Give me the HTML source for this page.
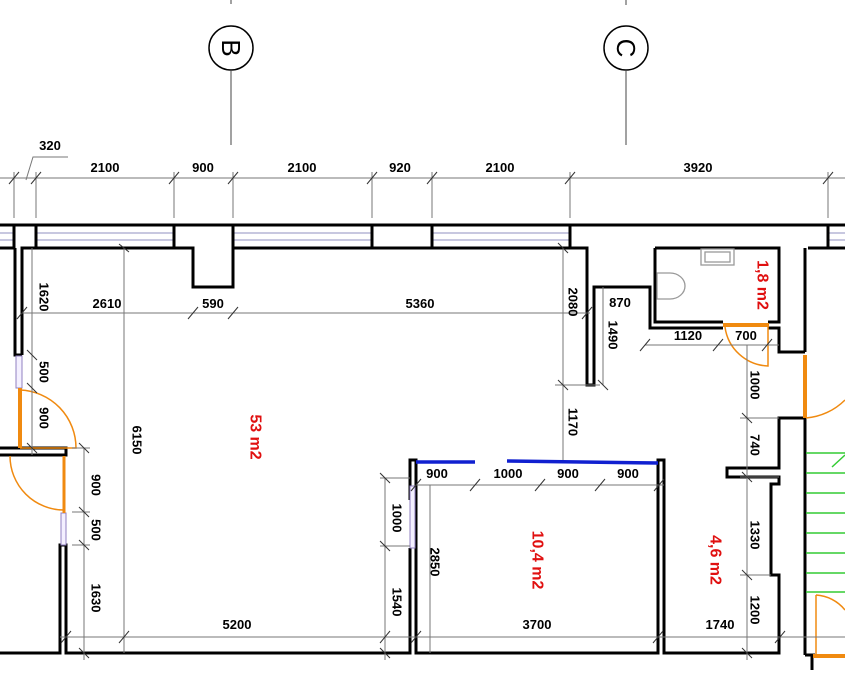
<!DOCTYPE html>
<html><head><meta charset="utf-8"><style>
html,body{margin:0;padding:0;background:#fff;}
svg{display:block;}
text{font-family:"Liberation Sans",sans-serif;font-weight:bold;font-size:13px;fill:#000;}
.r{fill:#e01010;font-size:16px;}
.d{stroke:#777;stroke-width:1;fill:none;}
.w{stroke:#000;stroke-width:3;fill:none;}
.t{stroke:#333;stroke-width:1;}
.o{stroke:#f08a10;fill:none;}
.g{stroke:#3c3;stroke-width:1.5;}
.win{stroke:#9090c0;stroke-width:1;}
</style></head><body>
<svg width="845" height="684" viewBox="0 0 845 684" xmlns="http://www.w3.org/2000/svg">
<circle cx="231" cy="48" r="22" fill="none" stroke="#000" stroke-width="1.5"/>
<text x="231" y="48" transform="rotate(90 231 48)" text-anchor="middle" dominant-baseline="central" style="font-size:26px;font-weight:normal">B</text>
<line x1="231" y1="70" x2="231" y2="145" stroke="#444"/>
<circle cx="626" cy="48" r="22" fill="none" stroke="#000" stroke-width="1.5"/>
<text x="626" y="48" transform="rotate(90 626 48)" text-anchor="middle" dominant-baseline="central" style="font-size:26px;font-weight:normal">C</text>
<line x1="626" y1="0" x2="626" y2="5" stroke="#444"/>
<line x1="626" y1="70" x2="626" y2="145" stroke="#444"/>
<line x1="231" y1="0" x2="231" y2="4" stroke="#444"/>

<line class="d" x1="0" y1="178" x2="845" y2="178"/>
<g class="d">
<line x1="14" y1="172" x2="14" y2="218"/><line x1="36" y1="172" x2="36" y2="218"/>
<line x1="174" y1="172" x2="174" y2="218"/><line x1="233" y1="172" x2="233" y2="218"/>
<line x1="372" y1="172" x2="372" y2="218"/><line x1="432" y1="172" x2="432" y2="218"/>
<line x1="570" y1="172" x2="570" y2="218"/><line x1="828" y1="172" x2="828" y2="218"/>
<polyline points="26,180 33,157 68,157"/>
</g>
<g class="t">
<line x1="9" y1="184" x2="19" y2="172"/><line x1="31" y1="184" x2="41" y2="172"/>
<line x1="169" y1="184" x2="179" y2="172"/><line x1="228" y1="184" x2="238" y2="172"/>
<line x1="367" y1="184" x2="377" y2="172"/><line x1="427" y1="184" x2="437" y2="172"/>
<line x1="565" y1="184" x2="575" y2="172"/><line x1="823" y1="184" x2="833" y2="172"/>
</g>
<text x="50" y="150" text-anchor="middle">320</text>
<text x="105" y="172" text-anchor="middle">2100</text>
<text x="203" y="172" text-anchor="middle">900</text>
<text x="302" y="172" text-anchor="middle">2100</text>
<text x="400" y="172" text-anchor="middle">920</text>
<text x="500" y="172" text-anchor="middle">2100</text>
<text x="698" y="172" text-anchor="middle">3920</text>

<line class="w" x1="0" y1="225" x2="845" y2="225"/>
<g class="win">
<line x1="0" y1="233" x2="14" y2="233"/><line x1="0" y1="240" x2="14" y2="240"/>
<line x1="36" y1="233" x2="174" y2="233"/><line x1="36" y1="240" x2="174" y2="240"/>
<line x1="233" y1="233" x2="372" y2="233"/><line x1="233" y1="240" x2="372" y2="240"/>
<line x1="432" y1="233" x2="570" y2="233"/><line x1="432" y1="240" x2="570" y2="240"/>
<line x1="828" y1="233" x2="845" y2="233"/><line x1="828" y1="240" x2="845" y2="240"/>
</g>
<g class="w">
<line x1="0" y1="248" x2="15" y2="248"/>
<line x1="14" y1="225" x2="14" y2="248"/><line x1="36" y1="225" x2="36" y2="248"/>
<line x1="174" y1="225" x2="174" y2="248"/><line x1="233" y1="225" x2="233" y2="248"/>
<line x1="372" y1="225" x2="372" y2="248"/><line x1="432" y1="225" x2="432" y2="248"/>
<line x1="570" y1="225" x2="570" y2="248"/><line x1="828" y1="225" x2="828" y2="248"/>
<polyline points="22,355 22,248 193,248 193,287 233,287 233,248 587,248 587,385 594,385 594,287 650,287 650,328 723,328"/>
<polyline points="15,248 15,355 22,355"/>
<polyline points="655,248 655,322 723,322"/>
<polyline points="655,248 779,248 779,322 768,322"/>
<polyline points="768,328 779,328 779,352 805,352"/>
<line x1="808" y1="248" x2="845" y2="248"/>
<polyline points="805,248 805,352"/>
<line x1="805" y1="418" x2="805" y2="655"/>
<polyline points="805,418 779,418 779,468 727,468 727,477 779,477 779,484 771,484 771,575 779,575 779,653 664,653 664,460 658,460 658,653 416,653 416,460 410,460 410,500"/>
<polyline points="410,548 410,653 66,653 66,545 60,545 60,653 0,653"/>
<polyline points="0,448 66,448 66,455 0,455"/>
<line x1="805" y1="655" x2="815" y2="655"/><line x1="812" y1="655" x2="812" y2="670"/>
</g>
<rect x="16" y="356" width="6" height="32" fill="#f4f0ff" stroke="#9080c0"/>
<rect x="61" y="513" width="5" height="32" fill="#f4f0ff" stroke="#9080c0"/>
<rect x="410" y="486" width="5" height="62" fill="#f4f0ff" stroke="#9080c0"/>
<line class="o" x1="20" y1="388" x2="20" y2="448" stroke-width="4"/>
<path class="o" d="M20 390 A58 58 0 0 1 76 448 L20 448" stroke-width="1.5"/>
<line class="o" x1="64" y1="456" x2="64" y2="513" stroke-width="3"/>
<path class="o" d="M10 456 A54 54 0 0 0 64 510" stroke-width="1.5"/>
<line class="o" x1="723" y1="325" x2="769" y2="325" stroke-width="4"/>
<path class="o" d="M725 327 A45 45 0 0 0 768 366 L768 327" stroke-width="1.5"/>
<line class="o" x1="805" y1="355" x2="805" y2="418" stroke-width="4"/>
<path class="o" d="M806 418 A62 62 0 0 0 845 400" stroke-width="1.5"/>
<line class="o" x1="813" y1="656" x2="845" y2="656" stroke-width="4"/>
<line class="o" x1="816" y1="595" x2="816" y2="655" stroke-width="1.5"/>
<path class="o" d="M816 595 A40 40 0 0 1 845 610" stroke-width="1.5"/>
<g stroke="#1020d0" stroke-width="3.5">
<line x1="416" y1="462" x2="475" y2="462"/>
<line x1="507" y1="461" x2="658" y2="463"/>
</g>
<g class="g">
<line x1="806" y1="453" x2="845" y2="453"/><line x1="806" y1="473" x2="845" y2="473"/>
<line x1="806" y1="493" x2="845" y2="493"/><line x1="806" y1="513" x2="845" y2="513"/>
<line x1="806" y1="533" x2="845" y2="533"/><line x1="806" y1="553" x2="845" y2="553"/>
<line x1="806" y1="573" x2="845" y2="573"/><line x1="806" y1="592" x2="845" y2="592"/>
<line x1="832" y1="467" x2="845" y2="455"/>
</g>
<g stroke="#999" fill="none" stroke-width="1.3">
<rect x="701" y="249" width="33" height="16"/><rect x="705" y="252" width="25" height="10"/>
<path d="M657 273 L670 273 A15 13 0 0 1 670 299 L657 299 Z"/>
</g>
<g class="d">
<line x1="22" y1="313" x2="590" y2="313"/>
<line x1="124" y1="248" x2="124" y2="653"/>
<line x1="60" y1="637" x2="845" y2="637"/>
<line x1="32" y1="248" x2="32" y2="455"/>
<line x1="84" y1="448" x2="84" y2="660"/>
<line x1="385" y1="478" x2="385" y2="660"/>
<line x1="563" y1="248" x2="563" y2="460"/>
<line x1="603" y1="287" x2="603" y2="385"/>
<line x1="416" y1="485" x2="664" y2="485"/>
<line x1="430" y1="485" x2="430" y2="653"/>
<line x1="645" y1="345" x2="779" y2="345"/>
<line x1="747" y1="345" x2="747" y2="660"/>
<line x1="555" y1="385" x2="600" y2="385"/>
<line x1="380" y1="478" x2="410" y2="478"/><line x1="380" y1="546" x2="410" y2="546"/>
<line x1="72" y1="448" x2="90" y2="448"/><line x1="72" y1="512" x2="90" y2="512"/><line x1="72" y1="545" x2="90" y2="545"/>
<line x1="740" y1="418" x2="779" y2="418"/><line x1="740" y1="477" x2="779" y2="477"/><line x1="740" y1="575" x2="771" y2="575"/>
</g>
<g class="t">
<line x1="17" y1="319" x2="27" y2="307"/><line x1="188" y1="319" x2="198" y2="307"/><line x1="228" y1="319" x2="238" y2="307"/><line x1="582" y1="319" x2="592" y2="307"/>
<line x1="119" y1="244" x2="129" y2="252"/>
<line x1="61" y1="643" x2="71" y2="631"/><line x1="119" y1="643" x2="129" y2="631"/><line x1="380" y1="643" x2="390" y2="631"/><line x1="411" y1="643" x2="421" y2="631"/><line x1="653" y1="643" x2="663" y2="631"/><line x1="775" y1="643" x2="785" y2="631"/>
<line x1="27" y1="350" x2="37" y2="360"/><line x1="27" y1="383" x2="37" y2="393"/><line x1="27" y1="443" x2="37" y2="453"/>
<line x1="79" y1="443" x2="89" y2="453"/><line x1="79" y1="507" x2="89" y2="517"/><line x1="79" y1="540" x2="89" y2="550"/><line x1="79" y1="648" x2="89" y2="658"/>
<line x1="380" y1="473" x2="390" y2="483"/><line x1="380" y1="541" x2="390" y2="551"/><line x1="380" y1="648" x2="390" y2="658"/>
<line x1="558" y1="380" x2="568" y2="390"/><line x1="598" y1="380" x2="608" y2="390"/><line x1="558" y1="243" x2="568" y2="253"/>
<line x1="411" y1="491" x2="421" y2="479"/><line x1="470" y1="491" x2="480" y2="479"/><line x1="535" y1="491" x2="545" y2="479"/><line x1="595" y1="491" x2="605" y2="479"/><line x1="654" y1="491" x2="664" y2="479"/>
<line x1="640" y1="351" x2="650" y2="339"/><line x1="713" y1="351" x2="723" y2="339"/><line x1="762" y1="351" x2="772" y2="339"/>
<line x1="742" y1="413" x2="752" y2="423"/><line x1="742" y1="472" x2="752" y2="482"/><line x1="742" y1="570" x2="752" y2="580"/><line x1="742" y1="648" x2="752" y2="658"/>
</g>
<text x="107" y="308" text-anchor="middle">2610</text>
<text x="213" y="308" text-anchor="middle">590</text>
<text x="420" y="308" text-anchor="middle">5360</text>
<text x="620" y="307" text-anchor="middle">870</text>
<text x="688" y="340" text-anchor="middle">1120</text>
<text x="746" y="340" text-anchor="middle">700</text>
<text x="437" y="478" text-anchor="middle">900</text>
<text x="508" y="478" text-anchor="middle">1000</text>
<text x="568" y="478" text-anchor="middle">900</text>
<text x="628" y="478" text-anchor="middle">900</text>
<text x="237" y="629" text-anchor="middle">5200</text>
<text x="537" y="629" text-anchor="middle">3700</text>
<text x="720" y="629" text-anchor="middle">1740</text>
<g text-anchor="middle" dominant-baseline="central">
<text transform="translate(44,297) rotate(90)">1620</text>
<text transform="translate(44,372) rotate(90)">500</text>
<text transform="translate(44,418) rotate(90)">900</text>
<text transform="translate(96,485) rotate(90)">900</text>
<text transform="translate(96,530) rotate(90)">500</text>
<text transform="translate(96,598) rotate(90)">1630</text>
<text transform="translate(137,440) rotate(90)">6150</text>
<text transform="translate(397,518) rotate(90)">1000</text>
<text transform="translate(397,602) rotate(90)">1540</text>
<text transform="translate(435,562) rotate(90)">2850</text>
<text transform="translate(573,302) rotate(90)">2080</text>
<text transform="translate(573,422) rotate(90)">1170</text>
<text transform="translate(613,335) rotate(90)">1490</text>
<text transform="translate(755,385) rotate(90)">1000</text>
<text transform="translate(755,445) rotate(90)">740</text>
<text transform="translate(755,535) rotate(90)">1330</text>
<text transform="translate(755,610) rotate(90)">1200</text>
<text class="r" transform="translate(255,437) rotate(90)">53 m2</text>
<text class="r" transform="translate(537,560) rotate(90)">10,4 m2</text>
<text class="r" transform="translate(715,560) rotate(90)">4,6 m2</text>
<text class="r" transform="translate(762,285) rotate(90)">1,8 m2</text>
</g>
</svg>
</body></html>
